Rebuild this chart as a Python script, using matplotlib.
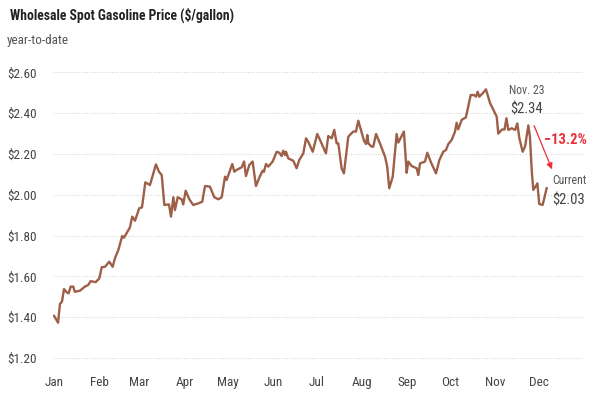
import matplotlib
matplotlib.use("Agg")
import matplotlib.pyplot as plt
from matplotlib import font_manager

names = {f.name for f in font_manager.fontManager.ttflist}
base = "Liberation Sans Narrow" if "Liberation Sans Narrow" in names else ("Roboto Condensed" if "Roboto Condensed" in names else "Roboto")
plt.rcParams['font.family'] = [base, 'DejaVu Sans']

# ---- data (day offset from Jan 1 2021, price $/gal) ----
days = [0, 2.8, 4.1, 5.5, 6.9, 8.7, 10.1, 11.5, 13.3, 14.3, 17.9, 21.3, 23.6, 25.3, 27.1, 28.7,
        31.2, 32.9, 35.1, 38.1, 40.4, 42, 44.3, 47, 48.2, 52.3, 53.9, 55.8, 58.7, 60.6, 62.9, 66.1,
        70.2, 72.3, 74.2, 76, 79.2, 80.6, 82.2, 83.3, 85.2, 87.9, 89, 90.7, 93.2, 95.9, 99.4, 102.1,
        104, 107.4, 110.4, 113.2, 115.5, 117.8, 118.9, 120.5, 122.8, 124.2, 125.8, 129.3, 130.9,
        132.2, 134.5, 136.8, 139.1, 141.9, 143.7, 144.6, 146, 147.6, 150.6, 153.4, 155.2, 156.8,
        157.9, 159.1, 159.8, 161.4, 164.8, 167.1, 168.9, 171.7, 173.6, 175.1, 178.2, 181.3, 183.2,
        187.3, 188.9, 191.3, 193, 194.7, 195.8, 198.1, 199.7, 202.7, 206.1, 208, 209.6, 211.3,
        213.5, 214.9, 215.8, 216.5, 218.8, 219.9, 221.8, 224.5, 228, 229.5, 230.9, 233.3, 236,
        237.1, 238.3, 241, 242.9, 244, 246.3, 249.8, 250.9, 252.1, 255.5, 257.1, 259.4, 263.1,
        265.4, 268.1, 270, 271.6, 273.9, 276.2, 277.3, 278.4, 280.8, 283.7, 285.3, 287, 289.3,
        290.6, 291.8, 292.9, 295.2, 297.5, 300.3, 302.6, 304.9, 306, 308.5, 310.3, 311.6, 312.9,
        315.2, 317.6, 319.1, 320.5, 322.8, 324.4, 326.7, 327.8, 329, 330.1, 332.5, 332.9, 334.2,
        336.5, 337.4, 339.3]
prices = [1.407, 1.373, 1.465, 1.476, 1.538, 1.522, 1.517, 1.55, 1.55, 1.525, 1.53, 1.55, 1.558,
          1.577, 1.574, 1.572, 1.59, 1.645, 1.647, 1.672, 1.647, 1.689, 1.729, 1.798, 1.79, 1.84,
          1.893, 1.873, 1.934, 1.938, 2.061, 2.048, 2.149, 2.113, 2.097, 1.95, 1.953, 1.893, 1.988,
          1.925, 1.988, 1.978, 1.953, 2.02, 1.978, 1.95, 1.958, 1.966, 2.043, 2.04, 1.988, 1.978,
          1.988, 2.089, 2.073, 2.105, 2.151, 2.113, 2.122, 2.135, 2.163, 2.092, 2.146, 2.163, 2.043,
          2.092, 2.118, 2.113, 2.151, 2.138, 2.163, 2.211, 2.206, 2.19, 2.216, 2.195, 2.211, 2.178,
          2.167, 2.13, 2.17, 2.203, 2.277, 2.26, 2.211, 2.298, 2.269, 2.203, 2.288, 2.277, 2.318,
          2.252, 2.252, 2.13, 2.105, 2.285, 2.31, 2.31, 2.363, 2.321, 2.265, 2.249, 2.293, 2.252,
          2.236, 2.236, 2.298, 2.252, 2.187, 2.138, 2.032, 2.089, 2.298, 2.256, 2.272, 2.31, 2.108,
          2.163, 2.141, 2.13, 2.097, 2.154, 2.163, 2.206, 2.163, 2.105, 2.17, 2.211, 2.22, 2.249,
          2.269, 2.31, 2.353, 2.321, 2.367, 2.38, 2.432, 2.489, 2.489, 2.481, 2.505, 2.481, 2.497,
          2.517, 2.45, 2.416, 2.383, 2.30, 2.32, 2.32, 2.375, 2.318, 2.326, 2.318, 2.35, 2.277,
          2.211, 2.236, 2.34, 2.285, 2.122, 2.024, 2.05, 2.056, 1.955, 1.95, 1.975, 2.032]

month_starts = [0, 31, 59, 90, 120, 151, 181, 212, 243, 273, 304, 334]
month_labels = ["Jan", "Feb", "Mar", "Apr", "May", "Jun", "Jul", "Aug", "Sep", "Oct", "Nov", "Dec"]
y_ticks = [1.2, 1.4, 1.6, 1.8, 2.0, 2.2, 2.4, 2.6]
y_labels = ["$1.20", "$1.40", "$1.60", "$1.80", "$2.00", "$2.20", "$2.40", "$2.60"]

nov23_day, nov23_price = 326.7, 2.34
cur_day, cur_price = 339.3, 2.03
pct_change = "\u221213.2%"

line_color = "#9E5F48"
red = "#E8303A"

fig = plt.figure(figsize=(5.99, 3.99), dpi=100)
ax = fig.add_axes([0.0877, 0.0925, 0.8872, 0.7363])
ax.plot(days, prices, color=line_color, lw=1.7, solid_joinstyle='round', zorder=3)

ax.set_xlim(-1, 365)
ax.set_ylim(1.18, 2.62)
ax.set_xticks(month_starts)
ax.set_xticklabels(month_labels)
ax.set_yticks(y_ticks)
ax.set_yticklabels(y_labels)
ax.tick_params(axis='both', length=0, labelsize=9.5, colors="#444444")
ax.tick_params(axis='y', pad=11)
ax.tick_params(axis='x', pad=10)
for s in ax.spines.values():
    s.set_visible(False)
ax.grid(axis='y', linestyle=(0, (1, 1.5)), color="#d4d4d4", lw=0.8)
ax.set_axisbelow(True)

fig.text(0.0167, 0.962, "Wholesale Spot Gasoline Price ($/gallon)", fontsize=9.8,
         fontweight='bold', color="#222222", va='center', ha='left')
fig.text(0.0117, 0.899, "year-to-date", fontsize=9.5, color="#555555", va='center', ha='left')

ax.text(nov23_day - 1, 2.509, "Nov. 23", fontsize=8.5, color="#555555", ha='center', va='center')
ax.text(nov23_day - 1, 2.416, "$%.2f" % nov23_price, fontsize=10.5, color="#444444", ha='center', va='center')
ax.text(cur_day + 15.4, 2.068, "Current", fontsize=8.5, color="#555555", ha='center', va='center')
ax.text(cur_day + 15.4, 1.97, "$%.2f" % cur_price, fontsize=10.5, color="#444444", ha='center', va='center')
ax.text(337.5, 2.269, pct_change, fontsize=10.5, color=red, fontweight='bold', ha='left', va='center',
        clip_on=False)
ax.annotate("", xy=(343.7, 2.112), xytext=(329.9, 2.352),
            arrowprops=dict(arrowstyle='-|>', color=red, lw=0.9, mutation_scale=9))

fig.savefig("out.png", dpi=100)
